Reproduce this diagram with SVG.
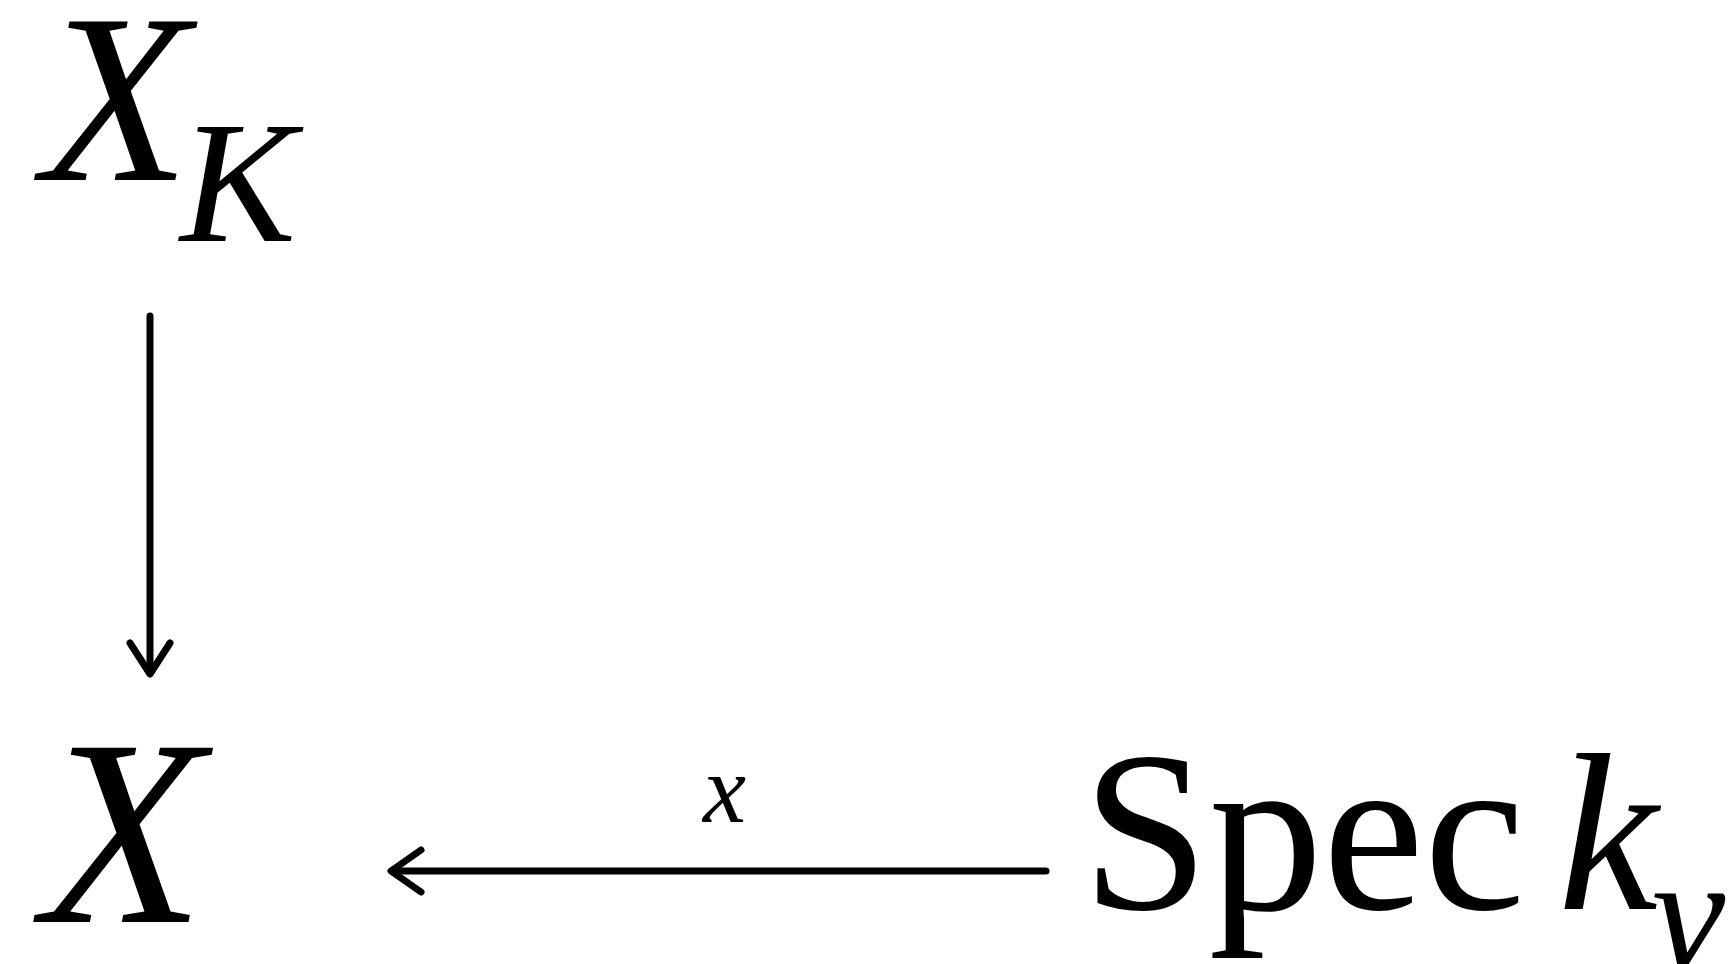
<svg xmlns="http://www.w3.org/2000/svg" width="1736" height="964" viewBox="0 0 1736 964">
<style>
.t{font-family:"Liberation Serif","Times New Roman",serif;fill:#000}
.i{font-style:italic}
.c{fill:none;stroke:#000;stroke-width:7;stroke-linecap:round;stroke-linejoin:round}
</style>
<rect width="1736" height="964" fill="#fff"/>
<g id="node-XK">
<text class="t i" x="42" y="180" font-size="242">X</text>
<text class="t i" x="180" y="241" font-size="174">K</text>
</g>
<g id="node-X">
<text class="t i" x="42" y="922" font-size="266">X</text>
</g>
<g id="node-Spec">
<text class="t" x="1082" y="909" font-size="228">Spec</text>
<text class="t i" x="1558" y="909" font-size="225">k</text>
<text class="t i" x="1652" y="969" font-size="165">v</text>
</g>
<g id="connectors">
<path class="c" d="M150,316 L150,672"/>
<path class="c" d="M130,643 L150,674 L170,643"/>
<path class="c" d="M1046,871 L392,871"/>
<path class="c" d="M421,850 L391,871 L421,892"/>
<text class="t i" x="703" y="822" font-size="97">x</text>
</g>
</svg>
